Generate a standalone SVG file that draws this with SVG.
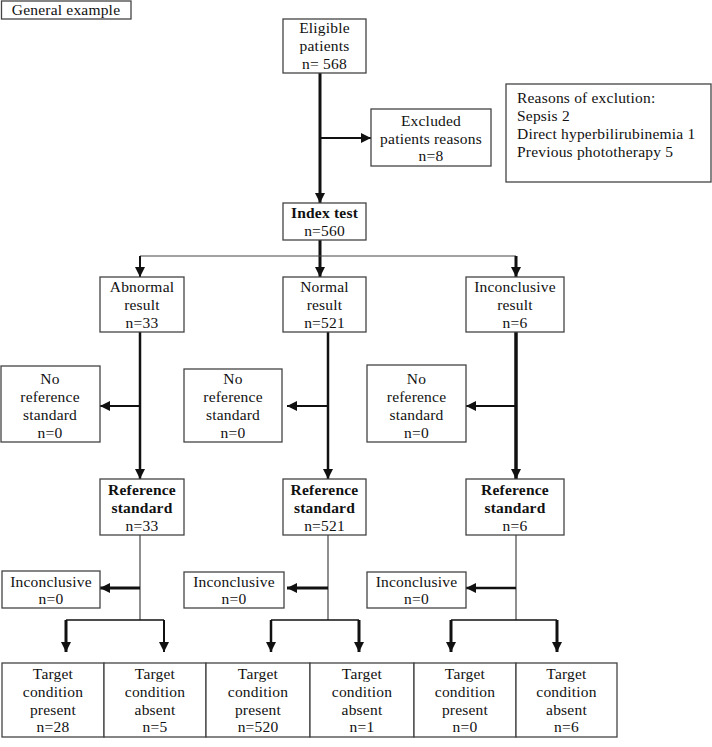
<svg xmlns="http://www.w3.org/2000/svg" width="712" height="747" viewBox="0 0 712 747">
<style>
.box{fill:#fff;stroke:#444;stroke-width:1.3}
text{font-family:'Liberation Serif','DejaVu Serif',serif;font-size:15.5px;fill:#111;letter-spacing:0.2px;text-anchor:middle}
.b{font-weight:bold}
.l{text-anchor:start}
.k{fill:none;stroke:#111}
.t1{stroke-width:1.2;stroke:#444}
.t2{stroke-width:2}
.t3{stroke-width:3}
</style>
<defs>
<marker id="a" markerUnits="userSpaceOnUse" markerWidth="10" markerHeight="10" viewBox="0 0 10 10" refX="10" refY="5" orient="auto">
<path d="M0,0 L10,5 L0,10 Z" fill="#111"/>
</marker>
</defs>

<g id="connectors">
<path class="k t3" d="M320,73 V203" marker-end="url(#a)"/>
<path class="k t2" d="M320,138 H371" marker-end="url(#a)"/>
<path class="k t3" d="M320,240 V277" marker-end="url(#a)"/>
<path class="k t1" d="M140,256 H516" stroke-width="1.5"/>
<path class="k t2" d="M140,256 V277" marker-end="url(#a)"/>
<path class="k t3" d="M516,256 V277" marker-end="url(#a)"/>

<path class="k" stroke-width="2.5" d="M140,332 V479" marker-end="url(#a)"/>
<path class="k t2" d="M140,406 H100" marker-end="url(#a)"/>
<path class="k" stroke-width="2.5" d="M328,332 V479" marker-end="url(#a)"/>
<path class="k t2" d="M328,406 H287" marker-end="url(#a)"/>
<path class="k" stroke-width="3.5" d="M516,332 V479" marker-end="url(#a)"/>
<path class="k t2" d="M516,406 H466" marker-end="url(#a)"/>

<path class="k t1" d="M140,535 V620"/>
<path class="k t3" d="M140,588 H100" marker-end="url(#a)"/>
<path class="k" stroke-width="1.5" d="M66,620 H164"/>
<path class="k t3" d="M66,620 V652" marker-end="url(#a)"/>
<path class="k t2" d="M164,620 V652" marker-end="url(#a)"/>

<path class="k t1" d="M328,535 V620"/>
<path class="k t3" d="M328,588 H287" marker-end="url(#a)"/>
<path class="k" stroke-width="1.5" d="M271,620 H359"/>
<path class="k" stroke-width="2.5" d="M271,620 V652" marker-end="url(#a)"/>
<path class="k t3" d="M359,620 V652" marker-end="url(#a)"/>

<path class="k t1" d="M516,535 V620"/>
<path class="k" stroke-width="2.5" d="M516,588 H466" marker-end="url(#a)"/>
<path class="k" stroke-width="1.5" d="M451,620 H557"/>
<path class="k t3" d="M451,620 V652" marker-end="url(#a)"/>
<path class="k t3" d="M557,620 V652" marker-end="url(#a)"/>
</g>

<g id="title"><rect class="box" x="1.5" y="1" width="129.5" height="18"/><text x="66" y="15">General example</text></g>

<g id="eligible"><rect class="box" x="283" y="19" width="83" height="54"/>
<text x="324.5" y="33">Eligible</text><text x="324.5" y="51">patients</text><text x="324.5" y="69">n= 568</text></g>

<g id="excluded"><rect class="box" x="371" y="109" width="120" height="57"/>
<text x="431" y="126">Excluded</text><text x="431" y="144">patients reasons</text><text x="431" y="161">n=8</text></g>

<g id="reasons"><rect class="box" x="506" y="84" width="205" height="98"/>
<text class="l" x="517" y="103">Reasons of exclution:</text><text class="l" x="517" y="121">Sepsis 2</text><text class="l" x="517" y="139">Direct hyperbilirubinemia 1</text><text class="l" x="517" y="157">Previous phototherapy 5</text></g>

<g id="index"><rect class="box" x="283" y="203" width="83" height="37"/>
<text class="b" x="324.5" y="218">Index test</text><text x="324.5" y="236">n=560</text></g>

<g id="abnormal"><rect class="box" x="100" y="277" width="84" height="55"/>
<text x="142" y="292">Abnormal</text><text x="142" y="310">result</text><text x="142" y="328">n=33</text></g>
<g id="normal"><rect class="box" x="283" y="277" width="83" height="55"/>
<text x="324.5" y="292">Normal</text><text x="324.5" y="310">result</text><text x="324.5" y="328">n=521</text></g>
<g id="inconclusive-result"><rect class="box" x="466" y="277" width="98" height="55"/>
<text x="515" y="292">Inconclusive</text><text x="515" y="310">result</text><text x="515" y="328">n=6</text></g>

<g id="noref1"><rect class="box" x="1" y="366" width="99" height="76"/>
<text x="50" y="384">No</text><text x="50" y="402">reference</text><text x="50" y="420">standard</text><text x="50" y="438">n=0</text></g>
<g id="noref2"><rect class="box" x="184" y="369" width="98" height="73"/>
<text x="233" y="384">No</text><text x="233" y="402">reference</text><text x="233" y="420">standard</text><text x="233" y="438">n=0</text></g>
<g id="noref3"><rect class="box" x="367" y="365" width="99" height="77"/>
<text x="416.5" y="384">No</text><text x="416.5" y="402">reference</text><text x="416.5" y="420">standard</text><text x="416.5" y="438">n=0</text></g>

<g id="ref1"><rect class="box" x="100" y="479" width="84" height="56"/>
<text class="b" x="142" y="495">Reference</text><text class="b" x="142" y="513">standard</text><text x="142" y="531">n=33</text></g>
<g id="ref2"><rect class="box" x="283" y="479" width="83" height="56"/>
<text class="b" x="324.5" y="495">Reference</text><text class="b" x="324.5" y="513">standard</text><text x="324.5" y="531">n=521</text></g>
<g id="ref3"><rect class="box" x="466" y="479" width="98" height="56"/>
<text class="b" x="515" y="495">Reference</text><text class="b" x="515" y="513">standard</text><text x="515" y="531">n=6</text></g>

<g id="inc1"><rect class="box" x="2" y="571" width="98" height="37"/>
<text x="51" y="587">Inconclusive</text><text x="51" y="604">n=0</text></g>
<g id="inc2"><rect class="box" x="184" y="572" width="100" height="36"/>
<text x="234" y="587">Inconclusive</text><text x="234" y="604">n=0</text></g>
<g id="inc3"><rect class="box" x="367" y="572" width="99" height="36"/>
<text x="416.5" y="587">Inconclusive</text><text x="416.5" y="604">n=0</text></g>

<g id="t1"><rect class="box" x="2" y="663" width="102" height="74"/>
<text x="53" y="679">Target</text><text x="53" y="697">condition</text><text x="53" y="715">present</text><text x="53" y="732">n=28</text></g>
<g id="t2"><rect class="box" x="104" y="663" width="102" height="74"/>
<text x="155" y="679">Target</text><text x="155" y="697">condition</text><text x="155" y="715">absent</text><text x="155" y="732">n=5</text></g>
<g id="t3"><rect class="box" x="206" y="663" width="104" height="74"/>
<text x="258" y="679">Target</text><text x="258" y="697">condition</text><text x="258" y="715">present</text><text x="258" y="732">n=520</text></g>
<g id="t4"><rect class="box" x="310" y="663" width="104" height="74"/>
<text x="362" y="679">Target</text><text x="362" y="697">condition</text><text x="362" y="715">absent</text><text x="362" y="732">n=1</text></g>
<g id="t5"><rect class="box" x="414" y="663" width="102" height="74"/>
<text x="465" y="679">Target</text><text x="465" y="697">condition</text><text x="465" y="715">present</text><text x="465" y="732">n=0</text></g>
<g id="t6"><rect class="box" x="516" y="663" width="101" height="74"/>
<text x="566.5" y="679">Target</text><text x="566.5" y="697">condition</text><text x="566.5" y="715">absent</text><text x="566.5" y="732">n=6</text></g>
</svg>
